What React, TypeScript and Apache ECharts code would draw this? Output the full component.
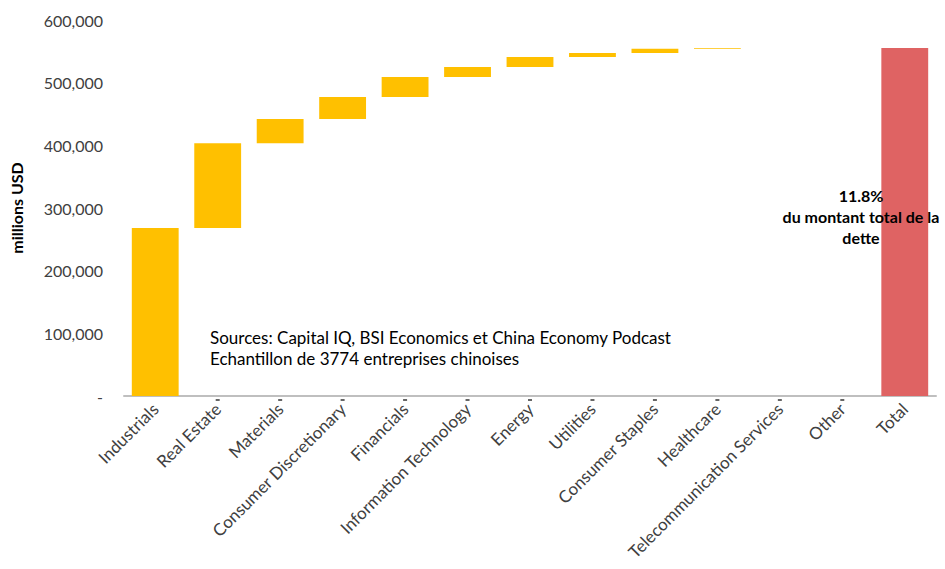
import React, { useEffect, useRef } from "react";
import * as echarts from "echarts";

const categories = [
  "Industrials",
  "Real Estate",
  "Materials",
  "Consumer Discretionary",
  "Financials",
  "Information Technology",
  "Energy",
  "Utilities",
  "Consumer Staples",
  "Healthcare",
  "Telecommunication Services",
  "Other",
  "Total",
];

// Debt per sector (millions USD)
const increments = [268000, 135500, 38500, 35000, 32000, 16000, 16000, 6500, 6500, 1500, 0, 0];
const totalValue = 555500;

const yTicks = [0, 100000, 200000, 300000, 400000, 500000, 600000];
const sourceLines = [
  "Sources: Capital IQ, BSI Economics et China Economy Podcast",
  "Echantillon de 3774 entreprises chinoises",
];
const annotationLines = ["11.8%", "du montant total de la", "dette"];

export default function App() {
  const ref = useRef<HTMLDivElement>(null);

  useEffect(() => {
    if (!ref.current) return;
    const chart = echarts.init(ref.current, null, { renderer: "svg" });

    const base: (number | string)[] = [];
    const vals: (number | string)[] = [];
    let cum = 0;
    increments.forEach((v) => {
      base.push(cum);
      vals.push(v);
      cum += v;
    });
    base.push(0);
    const totalData: any[] = categories.map((_, i) =>
      i === categories.length - 1 ? totalValue : "-"
    );
    vals.push("-");

    const dashData: any[] = categories.map((_, i) =>
      i === 0 || i === categories.length - 1 ? "-" : 0
    );

    const font = "Lato, Calibri, Carlito, sans-serif";

    chart.setOption({
      animation: false,
      grid: { left: 122, right: 9, top: 20, bottom: 173, containLabel: false },
      xAxis: {
        type: "category",
        data: categories,
        axisLine: { show: true, lineStyle: { color: "#bfbfbf", width: 2 } },
        axisTick: { show: false },
        axisLabel: {
          rotate: 45,
          interval: 0,
          fontFamily: font,
          fontSize: 17,
          color: "#404040",
          margin: 10,
        },
      },
      yAxis: {
        type: "value",
        min: 0,
        max: 600000,
        interval: 100000,
        name: "millions USD",
        nameLocation: "middle",
        nameGap: 100,
        nameRotate: 90,
        nameTextStyle: { fontFamily: font, fontSize: 16, fontWeight: "bold", color: "#000" },
        axisLine: { show: false },
        axisTick: { show: false },
        splitLine: { show: false },
        axisLabel: {
          fontFamily: font,
          fontSize: 16,
          color: "#404040",
          margin: 21,
          formatter: (v: number) =>
            v === 0 ? "-" : yTicks.includes(v) ? v.toLocaleString("en-US") : "",
        },
      },
      series: [
        {
          type: "bar",
          stack: "w",
          data: base,
          itemStyle: { color: "transparent" },
          barCategoryGap: "25%",
          silent: true,
        },
        {
          type: "bar",
          stack: "w",
          data: vals,
          itemStyle: { color: "#FFC000" },
        },
        {
          type: "bar",
          stack: "w",
          data: totalData,
          itemStyle: { color: "#DF6363" },
        },
        {
          type: "scatter",
          data: dashData,
          symbol: "rect",
          symbolSize: [4, 2],
          symbolOffset: [0, 4],
          itemStyle: { color: "#404040" },
          z: 5,
        },
      ],
      graphic: [
        {
          type: "text",
          left: 210,
          top: 327,
          style: {
            text: sourceLines.join("\n"),
            fontFamily: font,
            fontSize: 17,
            lineHeight: 21,
            fill: "#000",
          },
        },
        {
          type: "text",
          x: 861,
          y: 185,
          z: 100,
          style: {
            text: annotationLines.join("\n"),
            fontFamily: font,
            fontSize: 16,
            fontWeight: "bold",
            lineHeight: 21,
            align: "center",
            fill: "#000",
          },
        },
      ],
    });

    return () => chart.dispose();
  }, []);

  return (
    <div
      ref={ref}
      style={{ position: "fixed", left: 0, top: 0, width: 945, height: 569, background: "#fff" }}
    />
  );
}
